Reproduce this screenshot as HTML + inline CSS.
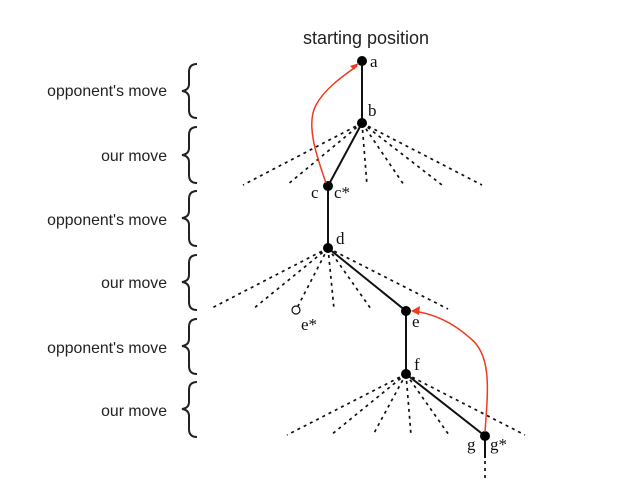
<!DOCTYPE html>
<html><head><style>
html,body{margin:0;padding:0;background:#fff;}
svg{display:block}
.l{font-family:"Liberation Sans",sans-serif;font-size:15.8px;fill:#222}
.s{font-family:"Liberation Serif",serif;font-size:17px;fill:#111}
</style></head><body>
<svg width="619" height="489" viewBox="0 0 619 489">
<text x="366" y="44" class="l" text-anchor="middle" style="font-size:18px">starting position</text>
<g class="l" text-anchor="end">
<text x="167" y="96">opponent's move</text>
<text x="167" y="161">our move</text>
<text x="167" y="225">opponent's move</text>
<text x="167" y="288">our move</text>
<text x="167" y="353">opponent's move</text>
<text x="167" y="416">our move</text>
</g>
<g fill="none" stroke="#222" stroke-width="2">
<path d="M197,64 Q189,64 189,72 L189,84 Q189,90 182,91 Q189,92 189,98 L189,110 Q189,118 197,118"/>
<path d="M197,127 Q189,127 189,135 L189,148 Q189,154 182,155 Q189,156 189,162 L189,175 Q189,183 197,183"/>
<path d="M197,191 Q189,191 189,199 L189,211 Q189,217 182,218 Q189,219 189,225 L189,238 Q189,246 197,246"/>
<path d="M197,255 Q189,255 189,263 L189,275 Q189,281 182,282 Q189,283 189,289 L189,302 Q189,310 197,310"/>
<path d="M197,319 Q189,319 189,327 L189,339 Q189,345 182,346 Q189,347 189,353 L189,366 Q189,374 197,374"/>
<path d="M197,382 Q189,382 189,390 L189,402 Q189,408 182,409 Q189,410 189,416 L189,429 Q189,437 197,437"/>
</g>
<g stroke="#111" stroke-width="1.7" stroke-dasharray="3,4" fill="none">
<path d="M362,123 L243,185 M362,123 L287,185 M362,123 L367,185 M362,123 L404,185 M362,123 L442,185 M362,123 L482,185"/>
<path d="M328,248 L210,309 M328,248 L253,309 M328,248 L298,306 M328,248 L334,309 M328,248 L371,309 M328,248 L448,309"/>
<path d="M406,374 L287,435 M406,374 L331,435 M406,374 L373,435 M406,374 L411,435 M406,374 L449,435 M406,374 L525,435"/>
<path d="M485,440 L485,480"/>
</g>
<g stroke="#111" stroke-width="2" fill="none">
<path d="M362,61 L362,123 L328,186 L328,248 L406,311 L406,374 L485,436 L485,458"/>
</g>
<g fill="#000">
<circle cx="362" cy="61" r="5"/><circle cx="362" cy="123" r="5"/><circle cx="328" cy="186" r="5"/>
<circle cx="328" cy="248" r="5"/><circle cx="406" cy="311" r="5"/><circle cx="406" cy="374" r="5"/>
<circle cx="485" cy="436" r="5"/>
</g>
<circle cx="296" cy="310" r="4" fill="#fff" stroke="#111" stroke-width="1.2"/>
<g fill="none" stroke="#f03a1e" stroke-width="1.5">
<path d="M326,183 C318,160 305,125 316,105 C324,90 340,78 357,66"/>
<path d="M485,432 C488,390 492,355 470,338 C452,322 432,313 412,311"/>
</g>
<path d="M359,63 L350,66 L354,70 Z" fill="#f03a1e"/>
<path d="M411,311 L420,306 L419,315 Z" fill="#f03a1e"/>
<g class="s">
<text x="370" y="67">a</text><text x="368" y="116">b</text>
<text x="311" y="198">c</text><text x="334" y="198">c*</text>
<text x="336" y="244">d</text>
<text x="301" y="330">e*</text><text x="412" y="327">e</text>
<text x="414" y="370">f</text>
<text x="467" y="450">g</text><text x="490" y="450">g*</text>
</g>
</svg>
</body></html>
